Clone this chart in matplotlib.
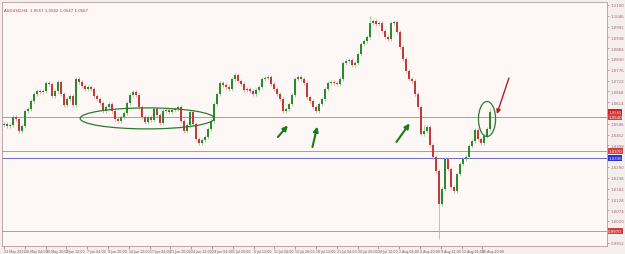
import numpy as np
import matplotlib
matplotlib.use("Agg")
import matplotlib.pyplot as plt
from matplotlib.patches import Ellipse, Rectangle

# ── data (AUDUSD H4, one candle ~ two H4 bars)
closes = [
    1.0505, 1.0495, 1.0500, 1.0540, 1.0530, 1.0470, 1.0495, 1.0570, 1.0580, 1.0620,
    1.0655, 1.0670, 1.0665, 1.0670, 1.0710, 1.0705, 1.0645, 1.0670, 1.0715, 1.0655,
    1.0600, 1.0630, 1.0645, 1.0600, 1.0730, 1.0715, 1.0695, 1.0680, 1.0690, 1.0680,
    1.0645, 1.0630, 1.0610, 1.0570, 1.0590, 1.0605, 1.0570, 1.0530, 1.0520, 1.0540,
    1.0560, 1.0610, 1.0650, 1.0665, 1.0650, 1.0590, 1.0540, 1.0515, 1.0540, 1.0525,
    1.0580, 1.0550, 1.0510, 1.0570, 1.0575, 1.0565, 1.0575, 1.0580, 1.0590, 1.0520,
    1.0470, 1.0500, 1.0565, 1.0505, 1.0430, 1.0410, 1.0425, 1.0440, 1.0480, 1.0520,
    1.0605, 1.0655, 1.0710, 1.0700, 1.0690, 1.0680, 1.0730, 1.0750, 1.0720, 1.0705,
    1.0675, 1.0680, 1.0670, 1.0655, 1.0675, 1.0690, 1.0730, 1.0735, 1.0740, 1.0705,
    1.0680, 1.0655, 1.0630, 1.0570, 1.0580, 1.0605, 1.0650, 1.0730, 1.0740, 1.0730,
    1.0710, 1.0640, 1.0620, 1.0590, 1.0570, 1.0605, 1.0630, 1.0680, 1.0710, 1.0715,
    1.0710, 1.0705, 1.0730, 1.0810, 1.0820, 1.0825, 1.0800, 1.0810, 1.0855, 1.0905,
    1.0920, 1.0940, 1.1010, 1.1020, 1.1005, 1.1010, 1.0970, 1.0940, 1.0930, 1.1010,
    1.1015, 1.0965, 1.0890, 1.0830, 1.0770, 1.0730, 1.0720, 1.0655, 1.0590, 1.0455,
    1.0470, 1.0490, 1.0400, 1.0340, 1.0270, 1.0105, 1.0180, 1.0330, 1.0280, 1.0190,
    1.0170, 1.0255, 1.0305, 1.0330, 1.0340, 1.0395, 1.0420, 1.0475, 1.0430, 1.0410,
    1.0445, 1.0480, 1.0565,
]
first_open = 1.0500
wick_overrides = {122: (1.1045, None), 145: (None, 0.9930), 140: (1.0500, None), 162: (1.0585, None)}

line_levels = [1.0540, 1.0370, 0.9970]   # red horizontal lines
blue_level = 1.0335

price_ticks = [1.1100 - 0.0054 * k for k in range(23)]
time_labels = [
    "23 May 2011", "26 May 04:00", "30 May 20:00", "2 Jun 12:00", "7 Jun 04:00",
    "9 Jun 20:00", "14 Jun 12:00", "17 Jun 04:00", "21 Jun 20:00", "24 Jun 12:00",
    "29 Jun 04:00", "1 Jul 20:00", "6 Jul 12:00", "11 Jul 04:00", "13 Jul 20:00",
    "18 Jul 12:00", "21 Jul 04:00", "25 Jul 20:00", "28 Jul 12:00", "2 Aug 04:00",
    "4 Aug 20:00", "9 Aug 12:00", "12 Aug 04:00", "16 Aug 20:00",
]

BULL = "#2b8a2b"
BEAR = "#c43a3a"
BG = "#fdf8f6"

fig = plt.figure(figsize=(6.25, 2.55), dpi=100)
fig.patch.set_facecolor("#f4eeee")
ax = fig.add_axes([2 / 625, 8 / 255, 605 / 625, 244 / 255])
ax.set_facecolor(BG)

closes = np.array(closes)
opens = np.concatenate([[first_open], closes[:-1]])
x = np.arange(len(closes))
highs = np.maximum(opens, closes) + 0.0010
lows = np.minimum(opens, closes) - 0.0010
for i, (h, l) in wick_overrides.items():
    if h is not None:
        highs[i] = h
    if l is not None:
        lows[i] = l

for i in x:
    up = closes[i] >= opens[i]
    col = BULL if up else BEAR
    ax.vlines(i, lows[i], highs[i], color="#9fc79a" if up else "#d9a99a", lw=0.6, zorder=2)
    body_lo = min(opens[i], closes[i])
    body_h = max(abs(closes[i] - opens[i]), 0.0003)
    ax.add_patch(Rectangle((i - 0.3, body_lo), 0.6, body_h, color=col, lw=0, zorder=3))

for lv in line_levels:
    ax.axhline(lv, color="#d48a8a", lw=0.7, zorder=1)
ax.axhline(blue_level, color="#6a6ac8", lw=0.7, zorder=1)

# annotations
ax.add_patch(Ellipse((47.7, 1.0533), 44.7, 0.0105, fill=False, ec="#2f7a2f", lw=0.9, zorder=4))
ax.add_patch(Ellipse((161.0, 1.0530), 5.7, 0.0175, fill=False, ec="#2f7a2f", lw=0.9, zorder=4))
for (x0, y0), (x1, y1) in [((91.3, 1.0440), (94.6, 1.0498)),
                           ((102.8, 1.0390), (104.4, 1.0492)),
                           ((130.8, 1.0415), (135.2, 1.0508))]:
    ax.annotate("", xy=(x1, y1), xytext=(x0, y0),
                arrowprops=dict(arrowstyle="-|>", color="#1b7a1b", lw=1.5,
                                mutation_scale=7, shrinkA=0, shrinkB=0))
ax.annotate("", xy=(164.3, 1.0555), xytext=(168.3, 1.0735),
            arrowprops=dict(arrowstyle="-|>", color="#b02020", lw=1.0,
                            mutation_scale=6, shrinkA=0, shrinkB=0))

ax.set_xlim(-0.7, 201)
ax.set_ylim(0.9895, 1.1115)

# level boxes on the price scale
tags = [(closes[-1], "#d02020")] + [(lv, "#d04040") for lv in line_levels] + [(blue_level, "#3030d0")]

# right price scale (labels hidden where a level box sits)
ax.yaxis.tick_right()
ax.set_yticks(price_ticks)
ax.set_yticklabels([f"{p:.4f}" if min(abs(p - t[0]) for t in tags) > 0.0022 else ""
                    for p in price_ticks])
ax.tick_params(axis="y", labelsize=2.8, colors="#9a6a6a", length=1.5, width=0.4, pad=1)

# time scale
ax.set_xticks([k * 20.8 / 3 for k in range(len(time_labels))])
ax.set_xticklabels(time_labels, ha="left")
ax.tick_params(axis="x", labelsize=2.3, colors="#6a5a5a", length=2, width=0.4, pad=0.5)

for s in ax.spines.values():
    s.set_color("#b89a9a")
    s.set_linewidth(0.6)

for price, fc in tags:
    ax.text(1.002, price, f"{price:.4f}", transform=ax.get_yaxis_transform(),
            fontsize=2.8, color="white", va="center", ha="left",
            bbox=dict(boxstyle="square,pad=0.15", fc=fc, ec="none"), clip_on=False)

ax.text(0.004, 0.975, "AUDUSD,H4  1.0557 1.0582 1.0547 1.0567", transform=ax.transAxes,
        fontsize=2.8, color="#c03030", va="top")

fig.savefig("out.png", dpi=100, facecolor=fig.get_facecolor())
